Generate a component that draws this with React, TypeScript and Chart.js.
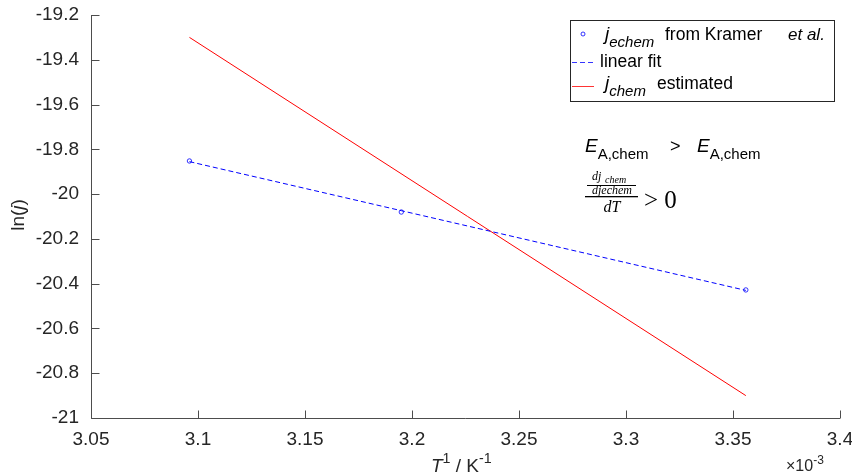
import React, { useEffect, useRef } from "react";
import { Chart, registerables } from "chart.js";

Chart.register(...registerables);

const tempInv = [3.096, 3.195, 3.356];
const lnJechem = [-19.852, -20.08, -20.428];
const lnJfit = [-19.855, -20.074, -20.43];
const chemX = [3.096, 3.356];
const lnJchem = [-19.3, -20.9];

const xMin = 3.05, xMax = 3.4, xStep = 0.05;
const yMin = -21, yMax = -19.2, yStep = 0.2;

const SANS = '"Liberation Sans", Arial, Helvetica, sans-serif';
const SERIF = '"Liberation Serif", "DejaVu Serif", serif';
const TXT = "#262626";

type Seg = { t: string; it?: boolean; sub?: boolean; sup?: boolean; size?: number; fam?: string };

function drawRich(ctx: CanvasRenderingContext2D, x: number, y: number, segs: Seg[], base: number, fam = SANS) {
  let cx = x;
  ctx.textBaseline = "alphabetic";
  ctx.textAlign = "left";
  for (const s of segs) {
    const sz = s.size ?? (s.sub || s.sup ? base * 0.75 : base);
    ctx.font = `${s.it ? "italic " : ""}${sz}px ${s.fam ?? fam}`;
    const dy = s.sub ? base * 0.38 : s.sup ? -base * 0.45 : 0;
    ctx.fillText(s.t, cx, y + dy);
    cx += ctx.measureText(s.t).width;
  }
  return cx;
}

const decor = {
  id: "decor",
  afterDraw(chart: any) {
    const ctx: CanvasRenderingContext2D = chart.ctx;
    const xs = chart.scales.x, ys = chart.scales.y;
    const L = Math.round(xs.left) + 0.5, B = Math.round(ys.bottom) + 0.5;
    const T = ys.top, R = xs.right;
    ctx.save();
    ctx.strokeStyle = "#4d4d4d";
    ctx.lineWidth = 1;
    ctx.beginPath();
    ctx.moveTo(L, T);
    ctx.lineTo(L, B);
    ctx.lineTo(R, B);
    for (const tk of xs.ticks) {
      const px = Math.round(xs.getPixelForValue(tk.value)) + 0.5;
      ctx.moveTo(px, B);
      ctx.lineTo(px, B - 8);
    }
    for (const tk of ys.ticks) {
      const py = Math.round(ys.getPixelForValue(tk.value)) + 0.5;
      ctx.moveTo(L, py);
      ctx.lineTo(L + 8, py);
    }
    ctx.stroke();

    ctx.fillStyle = TXT;
    // y label
    ctx.save();
    ctx.translate(24, 215);
    ctx.rotate(-Math.PI / 2);
    const segsY: Seg[] = [{ t: "ln(" }, { t: "j", it: true }, { t: ")" }];
    let w = 0;
    for (const s of segsY) { ctx.font = `${s.it ? "italic " : ""}19px ${SANS}`; w += ctx.measureText(s.t).width; }
    drawRich(ctx, -w / 2, 0, segsY, 19);
    ctx.restore();

    // x label
    drawRich(ctx, 431, 472, [{ t: "T", it: true }, { t: "1", sup: true }, { t: " / K" }, { t: "-1", sup: true }], 19);
    // exponent
    drawRich(ctx, 786, 471, [{ t: "\u00d710" }, { t: "-3", sup: true }], 16);

    // legend
    ctx.fillStyle = "#fff";
    ctx.fillRect(570.5, 20.5, 264, 81);
    ctx.strokeStyle = "#262626";
    ctx.lineWidth = 1;
    ctx.strokeRect(570.5, 20.5, 264, 81);
    ctx.strokeStyle = "#0000ff";
    ctx.lineWidth = 0.8;
    ctx.beginPath();
    ctx.arc(583, 34, 2, 0, Math.PI * 2);
    ctx.stroke();
    ctx.setLineDash([5, 3]);
    ctx.beginPath();
    ctx.moveTo(572, 62.5);
    ctx.lineTo(594, 62.5);
    ctx.stroke();
    ctx.setLineDash([]);
    ctx.strokeStyle = "#ff0000";
    ctx.beginPath();
    ctx.moveTo(572, 86.5);
    ctx.lineTo(594, 86.5);
    ctx.stroke();
    ctx.fillStyle = "#000";
    drawRich(ctx, 605, 40, [{ t: "j", it: true }, { t: "echem", it: true, sub: true, size: 15 }], 19);
    drawRich(ctx, 665, 40, [{ t: "from Kramer" }], 17.5);
    drawRich(ctx, 788, 40, [{ t: "et al.", it: true }], 17);
    drawRich(ctx, 600, 67, [{ t: "linear fit" }], 17.5);
    drawRich(ctx, 605, 89, [{ t: "j", it: true }, { t: "chem", it: true, sub: true, size: 15 }], 19);
    drawRich(ctx, 657, 89, [{ t: "estimated" }], 17.5);

    // annotation
    drawRich(ctx, 585, 152, [{ t: "E", it: true }, { t: "A,chem", sub: true, size: 15 }], 19);
    drawRich(ctx, 670, 152, [{ t: ">" }], 18);
    drawRich(ctx, 697, 152, [{ t: "E", it: true }, { t: "A,chem", sub: true, size: 15 }], 19);
    // fraction
    ctx.fillStyle = "#000";
    ctx.textAlign = "left";
    ctx.font = `italic 12px ${SERIF}`;
    ctx.fillText("dj", 592, 180);
    ctx.font = `italic 10px ${SERIF}`;
    ctx.fillText("chem", 605, 183);
    ctx.textAlign = "center";
    ctx.font = `italic 12px ${SERIF}`;
    ctx.fillText("djechem", 612, 194);
    ctx.fillRect(587, 185, 49, 1);
    ctx.fillRect(585, 196, 53, 1.3);
    ctx.font = `italic 16px ${SERIF}`;
    ctx.fillText("dT", 612, 212);
    ctx.textAlign = "left";
    ctx.font = `25px ${SERIF}`;
    ctx.fillText("> 0", 644, 208);
    ctx.restore();
  },
};

export default function App() {
  const ref = useRef<HTMLCanvasElement>(null);
  useEffect(() => {
    if (!ref.current) return;
    const chart = new Chart(ref.current, {
      type: "scatter",
      data: {
        datasets: [
          {
            label: "jechem",
            data: tempInv.map((x, i) => ({ x, y: lnJechem[i] })),
            showLine: false,
            pointStyle: "circle",
            pointRadius: 2.2,
            borderColor: "#0000ff",
            backgroundColor: "rgba(0,0,0,0)",
            borderWidth: 0.8,
          },
          {
            label: "fit",
            data: tempInv.map((x, i) => ({ x, y: lnJfit[i] })),
            showLine: true,
            pointRadius: 0,
            borderColor: "#0000ff",
            borderWidth: 1,
            borderDash: [5, 3],
          },
          {
            label: "chem",
            data: chemX.map((x, i) => ({ x, y: lnJchem[i] })),
            showLine: true,
            pointRadius: 0,
            borderColor: "#ff0000",
            borderWidth: 1,
          },
        ],
      },
      options: {
        responsive: false,
        animation: false,
        layout: { padding: { top: 15, right: 12, left: 0, bottom: 0 } },
        plugins: { legend: { display: false }, tooltip: { enabled: false } },
        scales: {
          x: {
            type: "linear",
            min: xMin,
            max: xMax,
            grid: { display: false, drawTicks: false },
            border: { display: false },
            afterFit: (s: any) => { s.height = 58; s.paddingLeft = 0; s.paddingRight = 0; },
            ticks: {
              stepSize: xStep,
              padding: 10,
              color: TXT,
              font: { family: SANS, size: 19 },
              callback: (v: any) => String(parseFloat(Number(v).toFixed(2))),
            },
          },
          y: {
            type: "linear",
            min: yMin,
            max: yMax,
            grid: { display: false, drawTicks: false },
            border: { display: false },
            afterFit: (s: any) => { s.width = 91; s.paddingTop = 0; s.paddingBottom = 0; },
            ticks: {
              stepSize: yStep,
              padding: 12,
              color: TXT,
              font: { family: SANS, size: 19 },
              callback: (v: any) => String(parseFloat(Number(v).toFixed(1))),
            },
          },
        },
      },
      plugins: [decor],
    });
    return () => chart.destroy();
  }, []);
  return (
    <div style={{ position: "absolute", left: 0, top: 0, width: 852, height: 476, background: "#fff" }}>
      <canvas ref={ref} width={852} height={476} style={{ width: 852, height: 476, display: "block" }} />
    </div>
  );
}
